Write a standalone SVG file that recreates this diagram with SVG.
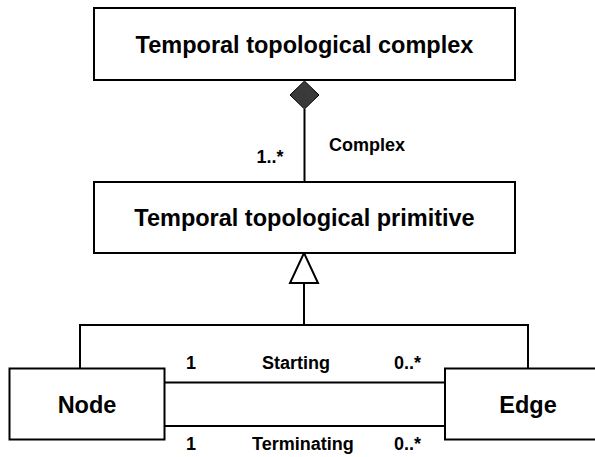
<svg xmlns="http://www.w3.org/2000/svg" width="595" height="457" viewBox="0 0 595 457">
  <style>
    .box { fill: #ffffff; stroke: #000000; stroke-width: 2; }
    .line { fill: none; stroke: #000000; stroke-width: 2; }
    .title { font-family: "Liberation Sans", Arial, sans-serif; font-weight: bold; font-size: 23.5px; fill: #000000; }
    .label { font-family: "Liberation Sans", Arial, sans-serif; font-weight: bold; font-size: 18px; fill: #000000; }
  </style>
  <rect width="595" height="457" fill="#ffffff"/>

  <!-- connectors -->
  <g id="connectors">
    <!-- composition: primitive -> complex -->
    <line class="line" x1="304.5" y1="109" x2="304.5" y2="182"/>
    <polygon points="304.5,81 319,95 304.5,109 290,95" fill="#3a3a3a" stroke="#000000" stroke-width="1"/>
    <!-- generalization: node/edge -> primitive -->
    <polygon class="box" points="304,253 318,283 290,283"/>
    <line class="line" x1="304" y1="283" x2="304" y2="325"/>
    <polyline class="line" points="80,368 80,325 528,325 528,368"/>
    <!-- associations between node and edge -->
    <line class="line" x1="164" y1="382.5" x2="445" y2="382.5"/>
    <line class="line" x1="164" y1="426" x2="445" y2="426"/>
    <text class="label" x="256.5" y="163">1..*</text>
    <text class="label" x="329" y="151">Complex</text>
    <text class="label" x="186" y="369">1</text>
    <text class="label" x="262" y="369">Starting</text>
    <text class="label" x="394" y="369">0..*</text>
    <text class="label" x="186" y="450">1</text>
    <text class="label" x="252" y="450">Terminating</text>
    <text class="label" x="394" y="450">0..*</text>
  </g>

  <g id="complex">
    <rect class="box" x="94" y="8" width="421" height="72"/>
    <text class="title" x="304.5" y="52.5" text-anchor="middle">Temporal topological complex</text>
  </g>

  <g id="primitive">
    <rect class="box" x="94" y="182" width="421" height="71"/>
    <text class="title" x="304.5" y="226" text-anchor="middle">Temporal topological primitive</text>
  </g>

  <g id="node">
    <rect class="box" x="9.5" y="368.5" width="155" height="71"/>
    <text class="title" x="87" y="412.5" text-anchor="middle">Node</text>
  </g>

  <g id="edge">
    <rect class="box" x="445" y="368.5" width="166" height="71"/>
    <text class="title" x="528" y="412.5" text-anchor="middle">Edge</text>
  </g>
</svg>
